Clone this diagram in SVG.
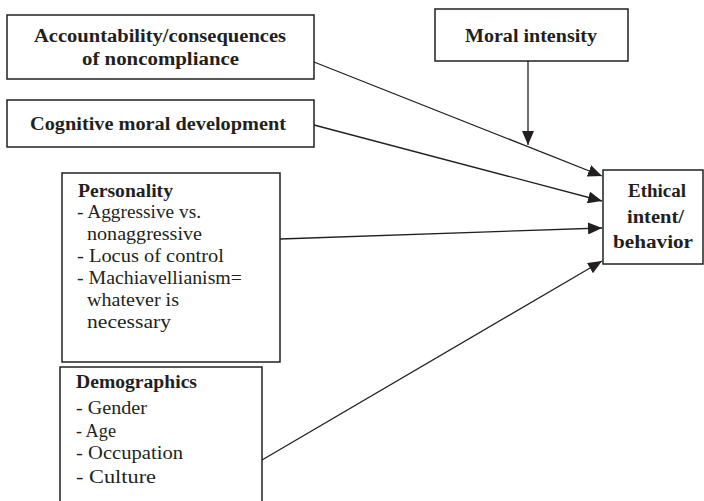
<svg xmlns="http://www.w3.org/2000/svg" width="704" height="501" viewBox="0 0 704 501">
<style>
.box{fill:#fff;stroke:#231f20;stroke-width:1.5}
.t{font-family:"Liberation Serif","DejaVu Serif",serif;font-size:18.5px;fill:#231f20}
.b{font-weight:bold}
.ln{stroke:#231f20;stroke-width:1.3;fill:none}
</style>
<defs>
<marker id="ahl" viewBox="0 0 14 12" refX="14" refY="6" markerWidth="14" markerHeight="12" markerUnits="userSpaceOnUse" orient="auto">
<path d="M0,0 L14,6 L0,12 z" fill="#231f20"/>
</marker>
</defs>
<g id="connectors">
<line class="ln" x1="314" y1="62" x2="602" y2="176" marker-end="url(#ahl)"/>
<line class="ln" x1="314" y1="125" x2="602" y2="201" marker-end="url(#ahl)"/>
<line class="ln" x1="280" y1="239" x2="602" y2="228" marker-end="url(#ahl)"/>
<line class="ln" x1="262" y1="460" x2="602" y2="261" marker-end="url(#ahl)"/>
<line class="ln" x1="528" y1="61" x2="528" y2="145" marker-end="url(#ahl)"/>
</g>
<g id="accountability">
<rect class="box" x="7" y="15" width="307" height="64"/>
<text class="t b" x="34" y="42" textLength="252" lengthAdjust="spacingAndGlyphs">Accountability/consequences</text>
<text class="t b" x="82" y="65" textLength="157" lengthAdjust="spacingAndGlyphs">of noncompliance</text>
</g>
<g id="cognitive">
<rect class="box" x="7" y="100" width="307" height="47"/>
<text class="t b" x="30" y="130" textLength="256" lengthAdjust="spacingAndGlyphs">Cognitive moral development</text>
</g>
<g id="moral-intensity">
<rect class="box" x="435" y="9" width="193" height="52"/>
<text class="t b" x="465" y="42" textLength="132" lengthAdjust="spacingAndGlyphs">Moral intensity</text>
</g>
<g id="ethical">
<rect class="box" x="603" y="170" width="100" height="94"/>
<text class="t b" x="628" y="197" textLength="58" lengthAdjust="spacingAndGlyphs">Ethical</text>
<text class="t b" x="627" y="223" textLength="57" lengthAdjust="spacingAndGlyphs">intent/</text>
<text class="t b" x="613" y="248" textLength="80" lengthAdjust="spacingAndGlyphs">behavior</text>
</g>
<g id="personality">
<rect class="box" x="62" y="173" width="218" height="189"/>
<text class="t b" x="78" y="197" textLength="95" lengthAdjust="spacingAndGlyphs">Personality</text>
<text class="t" x="77" y="218" textLength="124" lengthAdjust="spacingAndGlyphs">- Aggressive vs.</text>
<text class="t" x="87" y="240" textLength="115" lengthAdjust="spacingAndGlyphs">nonaggressive</text>
<text class="t" x="77" y="262" textLength="147" lengthAdjust="spacingAndGlyphs">- Locus of control</text>
<text class="t" x="77" y="284" textLength="165" lengthAdjust="spacingAndGlyphs">- Machiavellianism=</text>
<text class="t" x="87" y="306" textLength="92" lengthAdjust="spacingAndGlyphs">whatever is</text>
<text class="t" x="87" y="328" textLength="84" lengthAdjust="spacingAndGlyphs">necessary</text>
</g>
<g id="demographics">
<path class="box" d="M60,505 V367 H262 V505"/>
<text class="t b" x="76" y="388" textLength="121" lengthAdjust="spacingAndGlyphs">Demographics</text>
<text class="t" x="76" y="414" textLength="71" lengthAdjust="spacingAndGlyphs">- Gender</text>
<text class="t" x="76" y="437" textLength="40" lengthAdjust="spacingAndGlyphs">- Age</text>
<text class="t" x="76" y="459" textLength="107" lengthAdjust="spacingAndGlyphs">- Occupation</text>
<text class="t" x="76" y="483" textLength="80" lengthAdjust="spacingAndGlyphs">- Culture</text>
</g>
</svg>
